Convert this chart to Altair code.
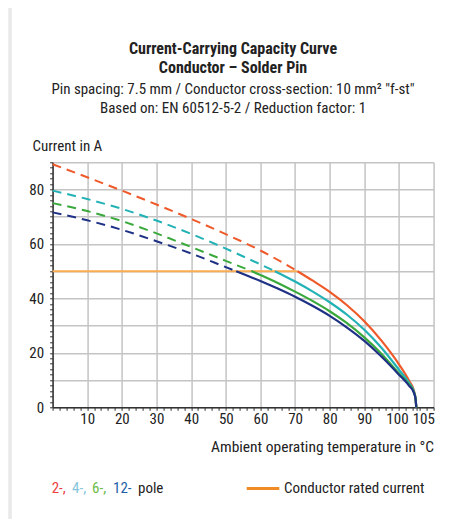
import altair as alt
import pandas as pd

# ---------------- data ----------------
series_names = ["2-pole", "4-pole", "6-pole", "12-pole"]
series_colors = ["#ef5a2a", "#22b2b5", "#3aa93c", "#1f3185"]

# dashed parts (above the conductor rated current)
red_dash_T = [0, 10, 20, 30, 40, 50, 60, 70.7]
red_dash_I = [89.3, 84.5, 79.6, 74.5, 69.2, 63.6, 57.6, 50.0]
cyan_dash_T = [0, 10, 20, 30, 40, 50, 60, 64.2]
cyan_dash_I = [79.6, 76.5, 72.9, 68.6, 63.7, 58.3, 52.5, 50.0]
green_dash_T = [0, 10, 20, 30, 40, 50, 57.5]
green_dash_I = [75.0, 72.1, 68.4, 63.9, 58.9, 53.8, 50.0]
navy_dash_T = [0, 10, 20, 30, 40, 50, 53]
navy_dash_I = [71.6, 68.7, 65.2, 61.0, 56.5, 51.5, 50.0]

# solid parts
red_T = [70.7, 75, 80, 85, 90, 95, 100, 103, 104.3, 104.8, 105]
red_I = [50.0, 46.6, 42.4, 37.5, 31.6, 24.4, 15.8, 9.6, 6.2, 3.0, 0]
cyan_T = [64.2, 70, 75, 80, 85, 90, 95, 100, 103, 104.3, 104.8, 105]
cyan_I = [50.0, 46.2, 42.6, 38.6, 34.0, 28.5, 21.8, 13.8, 8.8, 5.8, 3.0, 0]
green_T = [57.5, 60, 65, 70, 75, 80, 85, 90, 95, 100, 103, 104.3, 104.8, 105]
green_I = [50.0, 48.6, 45.7, 42.5, 39.1, 35.3, 30.9, 25.7, 19.6, 12.4, 8.2, 5.6, 3.0, 0]
navy_T = [53, 60, 65, 70, 75, 80, 85, 90, 95, 100, 103, 104.3, 104.8, 105]
navy_I = [50.0, 46.4, 43.6, 40.6, 37.3, 33.6, 29.3, 24.4, 18.6, 12.0, 7.8, 5.4, 3.0, 0]

rated_T = [0, 70.7]
rated_I = [50, 50]

x_ticks = list(range(0, 111, 2)) + [105]
y_ticks = list(range(0, 91, 2))

# ---------------- tables ----------------
def build(parts):
    rows = []
    for name, T, I in parts:
        for t, i in zip(T, I):
            rows.append({"series": name, "T": t, "I": i})
    return pd.DataFrame(rows)

df_dash = build([
    ("2-pole", red_dash_T, red_dash_I),
    ("4-pole", cyan_dash_T, cyan_dash_I),
    ("6-pole", green_dash_T, green_dash_I),
    ("12-pole", navy_dash_T, navy_dash_I),
])
df_solid = build([
    ("2-pole", red_T, red_I),
    ("4-pole", cyan_T, cyan_I),
    ("6-pole", green_T, green_I),
    ("12-pole", navy_T, navy_I),
])
df_rated = pd.DataFrame({"T": rated_T, "I": rated_I})
dummy = pd.DataFrame({"a": [0]})

FONT = "Liberation Sans Narrow, Roboto Condensed, Roboto, sans-serif"
TXT = "#222222"
OX, OY = 52.6, 162.3  # page position of plot origin
W, H = 381, 245

x_scale = alt.Scale(domain=[0, 110], nice=False, zero=False)
y_scale = alt.Scale(domain=[0, 90], nice=False)

grid_cond = {"condition": {"test": "datum.value % 10 === 0", "value": 1}, "value": 0}
x_offset = {"condition": {"test": "datum.value === 105", "value": 7}, "value": 0}
x_offset = {"condition": [{"test": "datum.value === 105", "value": 7},
                          {"test": "datum.value === 100", "value": -2}], "value": 0}

x_axis = alt.Axis(
    values=x_ticks,
    labelExpr="((datum.value % 10 === 0 && datum.value > 0 && datum.value < 110) || datum.value === 105) ? datum.label : ''",
    grid=True, gridOpacity=grid_cond, gridColor="#c4c4c4", gridWidth=1.5,
    tickSize=3, tickColor="#333333", domainColor="#333333", domainWidth=1.5,
    labelFont=FONT, labelFontSize=15, labelColor=TXT, labelPadding=1,
    labelOffset=x_offset,
    labelFlush=False, labelOverlap=False,
    title="Ambient operating temperature in °C", titleFont=FONT, titleFontSize=15.5,
    titleFontWeight="normal", titleColor=TXT, titleAlign="right", titleAngle=0,
    titleBaseline="alphabetic", titleX=W, titleY=44,
)
y_axis = alt.Axis(
    values=y_ticks,
    labelExpr="(datum.value % 20 === 0 && datum.value < 90) ? datum.label : ''",
    grid=True, gridOpacity=grid_cond, gridColor="#c4c4c4", gridWidth=1.5,
    tickSize=3, tickColor="#333333", domainColor="#333333", domainWidth=1.5,
    labelFont=FONT, labelFontSize=15, labelColor=TXT, labelPadding=6,
    labelFlush=False, labelOverlap=False,
    title="Current in A", titleFont=FONT, titleFontSize=15, titleFontWeight="normal",
    titleColor=TXT, titleAlign="left", titleAngle=0, titleBaseline="alphabetic",
    titleX=32 - OX, titleY=150.5 - OY,
)

X = alt.X("T:Q", scale=x_scale, axis=x_axis)
Y = alt.Y("I:Q", scale=y_scale, axis=y_axis)
color = alt.Color("series:N", scale=alt.Scale(domain=series_names, range=series_colors), legend=None)

rated = alt.Chart(df_rated).mark_line(color="#f9ad52", strokeWidth=2).encode(x=X, y=Y)
dashed = alt.Chart(df_dash).mark_line(strokeDash=[9, 6], strokeWidth=2, interpolate="monotone").encode(
    x=X, y=Y, color=color, detail="series:N")
solid = alt.Chart(df_solid).mark_line(strokeWidth=2.2, interpolate="monotone").encode(
    x=X, y=Y, color=color, detail="series:N")


def txt(text, x, y, size=15, weight="normal", col=TXT, align="center"):
    return alt.Chart(dummy).mark_text(
        text=text, align=align, baseline="alphabetic", font=FONT, fontSize=size,
        fontWeight=weight, color=col,
    ).encode(x=alt.value(x - OX), y=alt.value(y - OY))


strip = alt.Chart(dummy).mark_rule(color="#e9e9e9", strokeWidth=3.5).encode(
    x=alt.value(10 - OX), y=alt.value(-170), y2=alt.value(530 - OY))

legend_line = alt.Chart(dummy).mark_rule(color="#f08a24", strokeWidth=3).encode(
    x=alt.value(246.7 - OX), x2=alt.value(279.3 - OX), y=alt.value(488.5 - OY))

layers = [
    strip, rated, dashed, solid,
    txt("Current-Carrying Capacity Curve", 233, 53.5, size=16, weight="bold"),
    txt("Conductor \u2013 Solder Pin", 233, 73, size=16, weight="bold"),
    txt("Pin spacing: 7.5 mm / Conductor cross-section: 10 mm\u00b2 \"f-st\"", 233, 93.5),
    txt("Based on: EN 60512-5-2 / Reduction factor: 1", 233, 112.5),
    txt("2-,", 51.7, 493, col="#ee3e3e", align="left"),
    txt("4-,", 72, 493, col="#86c6dc", align="left"),
    txt("6-,", 92, 493, col="#6cbb48", align="left"),
    txt("12-", 113, 493, col="#1d5ea8", align="left"),
    txt("pole", 138, 493, align="left"),
    legend_line,
    txt("Conductor rated current", 284, 493, align="left"),
]

chart = alt.layer(*layers).properties(
    width=W, height=H,
    autosize="none",
    padding={"left": OX - 8, "top": OY - 8, "right": 433 - (OX - 8) - W, "bottom": 511 - (OY - 8) - H},
    background="white",
).configure_view(strokeWidth=0)

chart.save("out.html", embed_options={"renderer": "svg", "actions": False})
